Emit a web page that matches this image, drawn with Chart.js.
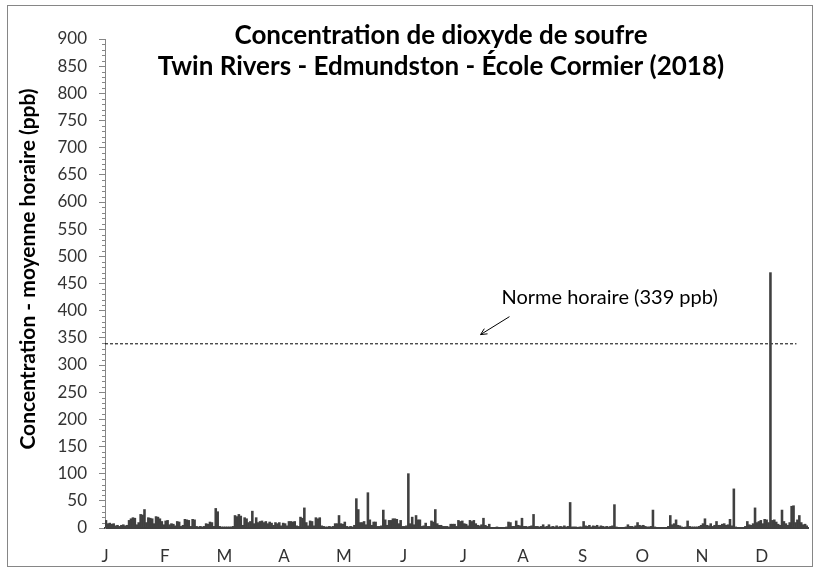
<!DOCTYPE html>
<html>
<head>
<meta charset="utf-8">
<title>Concentration de dioxyde de soufre</title>
<script src="https://cdn.jsdelivr.net/npm/chart.js@4.4.1/dist/chart.umd.min.js"></script>
<style>
    body { margin: 0; background: #fff; }
    #cadre { position: absolute; left: 0; top: 0; width: 818px; height: 568px; }
    #bordure { position: absolute; left: 7px; top: 5px; width: 806px; height: 562px; border: 1px solid #868686; box-sizing: border-box; pointer-events: none; }
</style>
</head>
<body>
<div id="cadre">
    <canvas id="graphiqueSO2" width="818" height="568"></canvas>
    <div id="bordure"></div>
</div>
<script>
// maximum journalier (ppb), un tableau par mois
const concJanvier = [14, 8, 9, 7, 8, 4, 5, 3, 5, 6, 4, 5, 14, 17, 19, 18, 6, 10, 25, 24, 34, 10, 19, 18, 17, 8, 21, 20, 17, 12, 6]
const concFevrier = [13, 14, 6, 8, 7, 4, 12, 11, 3, 5, 16, 15, 14, 3, 16, 15, 3, 2, 3, 2, 3, 8, 7, 11, 10, 3, 36, 30]
const concMars = [3, 2, 2, 2, 2, 2, 2, 3, 23, 21, 25, 22, 5, 19, 17, 10, 12, 31, 8, 19, 10, 12, 13, 10, 12, 8, 11, 9, 5, 10, 8]
const concAvril = [10, 4, 9, 8, 4, 12, 12, 11, 12, 4, 3, 20, 18, 37, 10, 4, 13, 12, 4, 19, 17, 19, 4, 3, 2, 2, 3, 2, 3, 8]
const concMai = [8, 23, 8, 7, 11, 3, 2, 3, 2, 5, 54, 34, 10, 10, 12, 6, 65, 15, 5, 11, 11, 3, 3, 4, 33, 15, 5, 14, 14, 17, 17]
const concJuin = [16, 8, 14, 3, 3, 4, 100, 8, 20, 6, 23, 15, 15, 3, 4, 9, 3, 3, 13, 11, 34, 8, 5, 5, 3, 3, 3, 2, 7, 7]
const concJuillet = [7, 3, 14, 12, 13, 8, 7, 4, 14, 12, 14, 8, 5, 4, 6, 18, 5, 3, 7, 1, 1, 1, 2, 1, 1, 1, 1, 2, 11, 10, 3]
const concAout = [3, 13, 5, 4, 18, 3, 3, 2, 3, 4, 25, 3, 3, 2, 3, 6, 2, 3, 6, 2, 3, 2, 4, 2, 3, 2, 4, 2, 3, 47, 2]
const concSeptembre = [2, 2, 1, 2, 2, 12, 4, 3, 5, 2, 4, 3, 5, 2, 4, 3, 2, 3, 2, 3, 4, 43, 2, 1, 1, 1, 1, 2, 6, 3]
const concOctobre = [3, 2, 4, 10, 5, 4, 5, 3, 2, 2, 3, 33, 2, 1, 1, 1, 1, 1, 1, 3, 23, 6, 8, 15, 5, 4, 2, 1, 2, 13, 3]
const concNovembre = [2, 2, 2, 2, 3, 5, 8, 17, 5, 4, 8, 3, 5, 12, 5, 5, 7, 8, 5, 6, 16, 4, 72, 2, 1, 1, 1, 1, 3, 12]
const concDecembre = [6, 5, 8, 37, 10, 12, 14, 8, 16, 15, 10, 470, 14, 15, 11, 7, 5, 33, 12, 8, 5, 10, 40, 41, 10, 15, 23, 10, 6, 7, 4]

// étiquettes de l'axe horizontal (une tous les 31 jours, comme dans le graphique Excel)
const moisLabels = ['J', 'F', 'M', 'A', 'M', 'J', 'J', 'A', 'S', 'O', 'N', 'D']
const joursEtiquettes = [0, 31, 62, 93, 124, 155, 186, 217, 248, 279, 310, 341]

const normeHoraire = 339
const finNorme = 359 // le trait pointillé s'arrête avant la fin de l'année

const concAnnee = [
    ...concJanvier, ...concFevrier, ...concMars, ...concAvril, ...concMai, ...concJuin,
    ...concJuillet, ...concAout, ...concSeptembre, ...concOctobre, ...concNovembre, ...concDecembre
]
const pointsConc = concAnnee.map((v, i) => ({ x: i + 0.5, y: v }))

const police = 'Lato, "Open Sans", sans-serif'

const habillage = {
    id: 'habillage',
    afterDraw(chart) {
        const ctx = chart.ctx
        const sx = chart.scales.x
        const sy = chart.scales.y
        const gauche = chart.chartArea.left

        // petites graduations de l'axe vertical
        ctx.save()
        ctx.strokeStyle = '#868686'
        ctx.lineWidth = 1
        for (let v = 10; v < 900; v += 10) {
            if (v % 50 === 0) continue
            const y = Math.round(sy.getPixelForValue(v)) + 0.5
            ctx.beginPath()
            ctx.moveTo(gauche - 3, y)
            ctx.lineTo(gauche, y)
            ctx.stroke()
        }

        // titre
        ctx.fillStyle = '#000'
        ctx.textAlign = 'center'
        ctx.textBaseline = 'middle'
        ctx.font = 'bold 26px ' + police
        ctx.fillText('Concentration de dioxyde de soufre', 441, 36)
        ctx.fillText('Twin Rivers - Edmundston - École Cormier (2018)', 441, 67)

        // titre de l'axe vertical
        ctx.save()
        ctx.translate(28, 269)
        ctx.rotate(-Math.PI / 2)
        ctx.font = 'bold 21px ' + police
        ctx.fillText('Concentration - moyenne horaire (ppb)', 0, 0)
        ctx.restore()

        // annotation de la norme
        ctx.font = '20px ' + police
        ctx.fillText('Norme horaire (339 ppb)', sx.getPixelForValue(262), sy.getPixelForValue(424))

        const x1 = sx.getPixelForValue(210), y1 = sy.getPixelForValue(389)
        const x2 = sx.getPixelForValue(195), y2 = sy.getPixelForValue(356)
        const angle = Math.atan2(y2 - y1, x2 - x1)
        ctx.strokeStyle = '#000'
        ctx.beginPath()
        ctx.moveTo(x1, y1)
        ctx.lineTo(x2, y2)
        ctx.moveTo(x2 - 7 * Math.cos(angle - 0.45), y2 - 7 * Math.sin(angle - 0.45))
        ctx.lineTo(x2, y2)
        ctx.lineTo(x2 - 7 * Math.cos(angle + 0.45), y2 - 7 * Math.sin(angle + 0.45))
        ctx.stroke()
        ctx.restore()
    }
}

const ctx = document.getElementById('graphiqueSO2').getContext('2d')
new Chart(ctx, {
    data: {
        datasets: [{
            type: 'bar',
            label: 'SO2',
            data: pointsConc,
            backgroundColor: '#404040',
            borderWidth: 0,
            barPercentage: 1,
            categoryPercentage: 1,
            order: 0
        }, {
            type: 'line',
            label: 'Norme',
            data: [{ x: 0, y: normeHoraire }, { x: finNorme, y: normeHoraire }],
            borderColor: '#000',
            borderWidth: 1,
            borderDash: [3, 2],
            pointRadius: 0,
            order: 1
        }]
    },
    options: {
        responsive: false,
        animation: false,
        layout: { padding: { left: 0, top: 39, right: 10, bottom: 0 } },
        plugins: {
            legend: { display: false },
            tooltip: { enabled: false }
        },
        scales: {
            x: {
                type: 'linear',
                min: 0,
                max: 365,
                offset: false,
                afterBuildTicks: scale => {
                    scale.ticks = joursEtiquettes.map(v => ({ value: v }))
                },
                afterFit: scale => { scale.height = 40 },
                ticks: {
                    autoSkip: false,
                    maxRotation: 0,
                    padding: 10,
                    color: '#333',
                    font: { family: police, size: 17 },
                    callback: (valeur, i) => moisLabels[i]
                },
                grid: { display: false },
                border: { display: true, color: '#404040', width: 2 }
            },
            y: {
                min: 0,
                max: 900,
                afterFit: scale => { scale.width = 105 },
                ticks: {
                    stepSize: 50,
                    padding: 12,
                    color: '#333',
                    font: { family: police, size: 17 }
                },
                grid: { drawOnChartArea: false, drawTicks: true, tickLength: 6, tickColor: '#868686' },
                border: { display: true, color: '#868686', width: 1 }
            }
        }
    },
    plugins: [habillage]
})
</script>
</body>
</html>
